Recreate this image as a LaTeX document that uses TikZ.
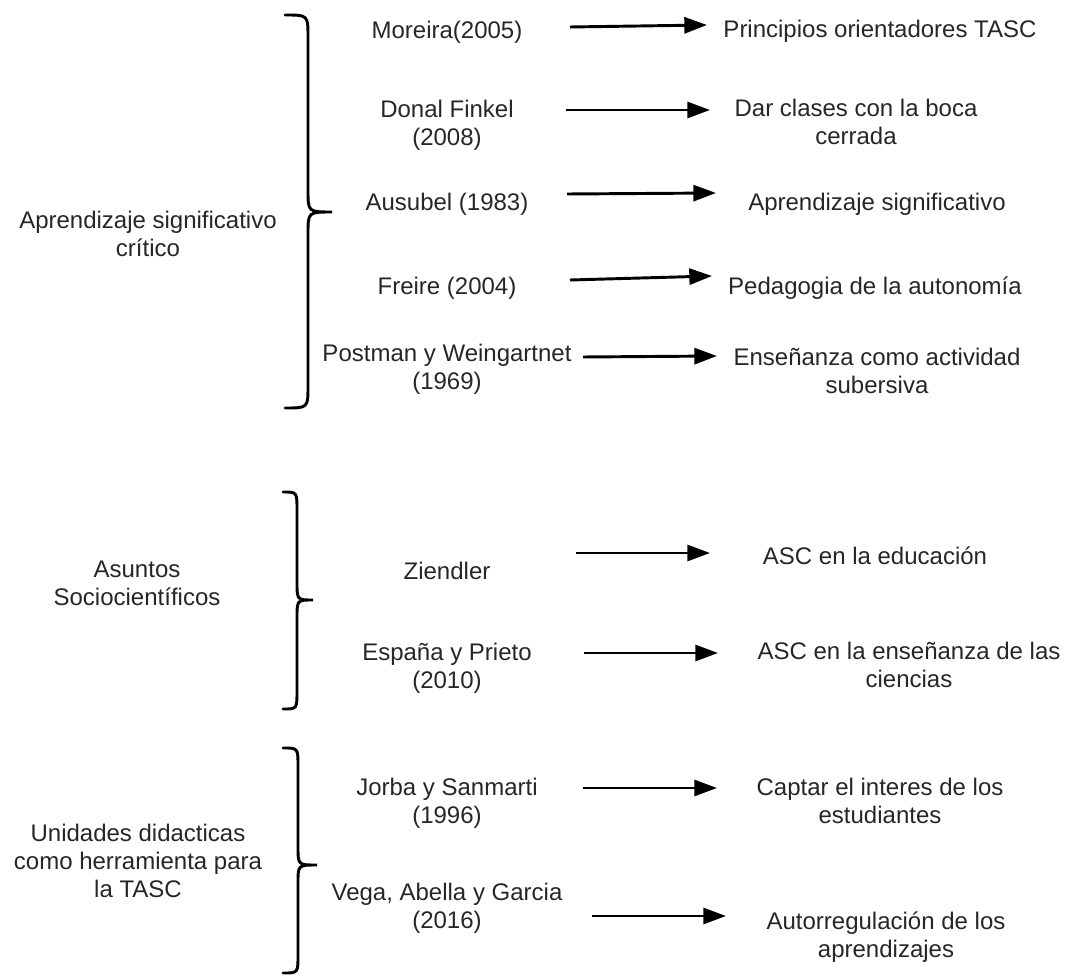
\documentclass[tikz,border=0pt]{standalone}
\usepackage{fontspec}
\setmainfont{Liberation Sans}
\usetikzlibrary{arrows.meta}
\tikzset{
  txt/.style={align=center, inner sep=0pt, anchor=north, font=\fontsize{18}{21}\selectfont, text=black!85},
  arr/.style={line width=2.2pt, -{Triangle[length=17pt,width=12pt]}},
  brace/.style={line width=2.2pt, line cap=round}
}
% place text so that its first baseline lies at y (pixels)
\newcommand{\tnode}[4]{\node[txt] (#1) at (#2,#3-17.3) {#4};}
\begin{document}
\begin{tikzpicture}[x=0.75pt,y=-0.75pt]
\useasboundingbox (0,0) rectangle (1065,977);
% left labels
\tnode{L1}{148}{228}{Aprendizaje significativo\\crítico}
\tnode{L2}{137}{578}{Asuntos\\Sociocientíficos}
\tnode{L3}{138}{841}{Unidades didacticas\\como herramienta para\\la TASC}
% braces
\draw[brace] (285,15) .. controls (308,15) .. (308,37) -- (308,190) .. controls (308,212) .. (332,212) .. controls (308,212) .. (308,234) -- (308,386) .. controls (308,408) .. (285,408);
\draw[brace] (283,492) .. controls (297,492) .. (297,510) -- (297,582) .. controls (297,600) .. (313,600) .. controls (297,600) .. (297,618) -- (297,691) .. controls (297,709) .. (283,709);
\draw[brace] (283,748) .. controls (298,748) .. (298,766) -- (298,847) .. controls (298,865) .. (317,865) .. controls (298,865) .. (298,883) -- (298,955) .. controls (298,973) .. (283,973);
% middle
\tnode{M1}{447}{38}{Moreira(2005)}
\tnode{M2}{447}{117}{Donal Finkel\\(2008)}
\tnode{M3}{447}{210}{Ausubel (1983)}
\tnode{M4}{447}{294}{Freire (2004)}
\tnode{M5}{447}{361}{Postman y Weingartnet\\(1969)}
\tnode{M6}{447}{579}{Ziendler}
\tnode{M7}{447}{660}{España y Prieto\\(2010)}
\tnode{M8}{447}{795}{Jorba y Sanmarti\\(1996)}
\tnode{M9}{447}{900}{Vega, Abella y Garcia\\(2016)}
% right
\tnode{R1}{880}{37}{Principios orientadores TASC}
\tnode{R2}{856}{116}{Dar clases con la boca\\cerrada}
\tnode{R3}{877}{210}{Aprendizaje significativo}
\tnode{R4}{875}{294}{Pedagogia de la autonomía}
\tnode{R5}{877}{365}{Enseñanza como actividad\\subersiva}
\tnode{R6}{875}{564}{ASC en la educación}
\tnode{R7}{909}{659}{ASC en la enseñanza de las\\ciencias}
\tnode{R8}{880}{795}{Captar el interes de los\\estudiantes}
\tnode{R9}{886}{929}{Autorregulación de los\\aprendizajes}
% arrow ends
\coordinate (s1) at (570,27); \coordinate (e1) at (707,25);
\coordinate (s2) at (566,110); \coordinate (e2) at (710,110);
\coordinate (s3) at (567,194); \coordinate (e3) at (716,193);
\coordinate (s4) at (570,280); \coordinate (e4) at (712,276);
\coordinate (s5) at (583,357); \coordinate (e5) at (717,356);
\coordinate (s6) at (576,553); \coordinate (e6) at (710,553);
\coordinate (s7) at (584,653); \coordinate (e7) at (718,653);
\coordinate (s8) at (583,788); \coordinate (e8) at (717,788);
\coordinate (s9) at (592,916); \coordinate (e9) at (726,916);
\foreach \i in {1,...,9} {\draw[arr] (s\i) -- (e\i);}
\end{tikzpicture}
\end{document}
